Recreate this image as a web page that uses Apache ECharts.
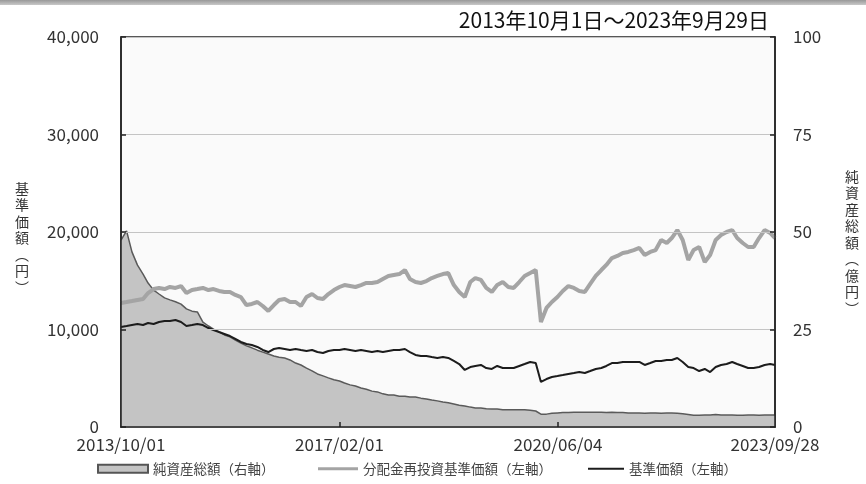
<!DOCTYPE html>
<html><head><meta charset="utf-8">
<script src="https://cdn.jsdelivr.net/npm/echarts@6/dist/echarts.min.js"></script>
<style>html,body{margin:0;padding:0;background:#fff}#c{width:866px;height:484px}</style>
</head><body><div id="c"></div>
<script>
const dates = [
'2013-10-01','2013-11-01','2013-12-01',
'2014-01-01','2014-02-01','2014-03-01','2014-04-01','2014-05-01','2014-06-01','2014-07-01','2014-08-01','2014-09-01','2014-10-01','2014-11-01','2014-12-01',
'2015-01-01','2015-02-01','2015-03-01','2015-04-01','2015-05-01','2015-06-01','2015-07-01','2015-08-01','2015-09-01','2015-10-01','2015-11-01','2015-12-01',
'2016-01-01','2016-02-01','2016-03-01','2016-04-01','2016-05-01','2016-06-01','2016-07-01','2016-08-01','2016-09-01','2016-10-01','2016-11-01','2016-12-01',
'2017-01-01','2017-02-01','2017-03-01','2017-04-01','2017-05-01','2017-06-01','2017-07-01','2017-08-01','2017-09-01','2017-10-01','2017-11-01','2017-12-01',
'2018-01-01','2018-02-01','2018-03-01','2018-04-01','2018-05-01','2018-06-01','2018-07-01','2018-08-01','2018-09-01','2018-10-01','2018-11-01','2018-12-01',
'2019-01-01','2019-02-01','2019-03-01','2019-04-01','2019-05-01','2019-06-01','2019-07-01','2019-08-01','2019-09-01','2019-10-01','2019-11-01','2019-12-01',
'2020-01-01','2020-02-01','2020-03-01','2020-04-01','2020-05-01','2020-06-01','2020-07-01','2020-08-01','2020-09-01','2020-10-01','2020-11-01','2020-12-01',
'2021-01-01','2021-02-01','2021-03-01','2021-04-01','2021-05-01','2021-06-01','2021-07-01','2021-08-01','2021-09-01','2021-10-01','2021-11-01','2021-12-01',
'2022-01-01','2022-02-01','2022-03-01','2022-04-01','2022-05-01','2022-06-01','2022-07-01','2022-08-01','2022-09-01','2022-10-01','2022-11-01','2022-12-01',
'2023-01-01','2023-02-01','2023-03-01','2023-04-01','2023-05-01','2023-06-01','2023-07-01','2023-08-01','2023-09-01','2023-09-28'
];
// 純資産総額（億円）
const netAssets = [
47.9,50.3,44.9,41.5,39.2,36.9,35.1,34.1,33.1,32.6,
32.1,31.5,30.3,29.7,29.5,26.9,25.9,25.1,24.4,23.6,
23.1,22.3,21.5,20.8,20.3,19.7,19.2,18.7,18.2,17.9,
17.7,17.2,16.4,15.9,15.1,14.4,13.6,13.1,12.6,12.1,
11.8,11.3,10.8,10.5,10.0,9.7,9.2,9.0,8.5,8.2,
8.2,7.9,7.9,7.7,7.7,7.4,7.2,6.9,6.7,6.4,
6.2,5.9,5.6,5.4,5.1,4.9,4.9,4.7,4.6,4.6,
4.4,4.4,4.4,4.4,4.4,4.3,4.1,3.3,3.3,3.5,
3.6,3.7,3.7,3.8,3.8,3.8,3.8,3.8,3.8,3.7,
3.8,3.7,3.7,3.6,3.6,3.6,3.5,3.6,3.6,3.5,
3.6,3.6,3.5,3.4,3.2,3.0,3.0,3.1,3.1,3.2,
3.1,3.1,3.1,3.0,3.0,3.1,3.1,3.0,3.1,3.1,
3.1
];
// 分配金再投資基準価額（円）
const reinvested = [
12720,12820,12920,13030,13130,13740,14150,14260,14150,14360,
14260,14460,13740,14050,14150,14260,14050,14150,13950,13850,
13850,13540,13330,12510,12620,12820,12410,11900,12510,13030,
13130,12820,12820,12410,13330,13640,13230,13130,13640,14050,
14360,14560,14460,14360,14560,14770,14770,14870,15180,15490,
15590,15690,16100,15180,14870,14770,14970,15280,15490,15690,
15790,14560,13850,13330,14870,15280,15080,14260,13850,14560,
14870,14360,14260,14870,15490,15790,16100,10770,12210,12820,
13330,13950,14460,14260,13950,13850,14670,15490,16100,16620,
17330,17540,17850,17950,18150,18360,17640,17950,18150,19180,
18870,19380,20200,19180,17130,18150,18460,16920,17640,19180,
19690,20000,20200,19380,18870,18460,18460,19380,20200,19900,
19380
];
// 基準価額（円）
const basePrice = [
10260,10360,10460,10560,10460,10670,10560,10770,10870,10870,
10970,10770,10360,10460,10560,10460,10150,9950,9740,9540,
9330,9030,8720,8510,8410,8210,7900,7690,8000,8100,
8000,7900,8000,7900,7800,7900,7690,7590,7800,7900,
7900,8000,7900,7800,7900,7800,7690,7800,7690,7800,
7900,7900,8000,7690,7390,7280,7280,7180,7080,7180,
7080,6770,6460,5850,6150,6260,6360,6050,5950,6260,
6050,6050,6050,6260,6460,6670,6560,4620,4920,5130,
5230,5330,5440,5540,5640,5540,5740,5950,6050,6260,
6560,6560,6670,6670,6670,6670,6360,6560,6770,6770,
6870,6870,7080,6670,6150,6050,5740,5950,5640,6150,
6360,6460,6670,6460,6260,6050,6050,6150,6360,6460,
6360
];
const xLabelDates = ['2013-10-01','2017-02-01','2020-06-04','2023-09-28'];
const xTickDates = ['2017-02-01','2020-06-04'];
const titleText = '2013年10月1日～2023年9月29日';
const leftName = '基準価額︵円︶';
const rightName = '純資産総額︵億円︶';
const legendNames = ['純資産総額（右軸）','分配金再投資基準価額（左軸）','基準価額（左軸）'];

const FONT = '"Noto Sans CJK JP", "Noto Sans", sans-serif';
const ts = d => Date.UTC(+d.slice(0,4), +d.slice(5,7) - 1, +d.slice(8,10));
const fmt = v => { const d = new Date(v); const p = n => String(n).padStart(2, '0');
  return d.getUTCFullYear() + '/' + p(d.getUTCMonth() + 1) + '/' + p(d.getUTCDate()); };
const zip = arr => arr.map((v, i) => [ts(dates[i]), v]);

const chart = echarts.init(document.getElementById('c'), null, {renderer: 'canvas'});
chart.setOption({
  animation: false,
  backgroundColor: '#ffffff',
  textStyle: {fontFamily: FONT},
  graphic: [
    {type: 'rect', shape: {x: 0, y: 0, width: 866, height: 5},
     style: {fill: {type: 'linear', x: 0, y: 0, x2: 0, y2: 1, colorStops: [{offset: 0, color: '#999'}, {offset: 1, color: '#c8c8c8'}]}}},
    {type: 'text', left: 15, top: 180, style: {text: leftName.split('').join('\n'), font: '14px ' + FONT, fill: '#333', lineHeight: 16.5, textAlign: 'center'}},
    {type: 'text', left: 845, top: 168, style: {text: rightName.split('').join('\n'), font: '14px ' + FONT, fill: '#333', lineHeight: 16.5, textAlign: 'center'}}
  ],
  title: {text: titleText, right: 92, top: 5, textStyle: {fontFamily: FONT, fontSize: 21, fontWeight: 'normal', color: '#111'}},
  grid: {left: 121, right: 91, top: 37, bottom: 57, show: true, backgroundColor: '#fafafa', borderColor: '#222', borderWidth: 1.5},
  legend: [
    {data: [legendNames[0]], left: 92, top: 457, icon: 'rect', itemWidth: 50, itemHeight: 8, itemGap: 4,
     textStyle: {fontFamily: FONT, fontSize: 13.5, color: '#444'}},
    {data: [legendNames[1]], left: 313, top: 457, itemWidth: 40, itemHeight: 3, icon: 'rect',
     textStyle: {fontFamily: FONT, fontSize: 13.5, color: '#444'}},
    {data: [legendNames[2]], left: 583, top: 457, itemWidth: 36, itemHeight: 2, icon: 'rect',
     textStyle: {fontFamily: FONT, fontSize: 13.5, color: '#444'}}
  ],
  xAxis: {
    type: 'value', min: ts('2013-10-01'), max: ts('2023-09-28'), z: 5,
    axisLine: {show: true, lineStyle: {color: '#222', width: 1.5}},
    axisTick: {show: true, inside: true, length: 5, customValues: xTickDates.map(ts), lineStyle: {color: '#222', width: 1.5}},
    axisLabel: {customValues: xLabelDates.map(ts), showMinLabel: true, showMaxLabel: true, margin: 9,
      fontFamily: FONT, fontSize: 17, color: '#333', formatter: v => fmt(v)},
    splitLine: {show: false}
  },
  yAxis: [
    {type: 'value', min: 0, max: 40000, interval: 10000, position: 'left', z: 5,
     axisLine: {show: true, lineStyle: {color: '#222', width: 1.5}},
     axisTick: {show: true, inside: true, length: 5, lineStyle: {color: '#222', width: 1.5}},
     axisLabel: {margin: 22, fontFamily: FONT, fontSize: 17, color: '#333',
       formatter: v => v.toLocaleString('en-US')},
     splitLine: {show: true, lineStyle: {color: '#c4c4c4', width: 1}}},
    {type: 'value', min: 0, max: 100, interval: 25, position: 'right', z: 5,
     axisLine: {show: true, lineStyle: {color: '#222', width: 1.5}},
     axisTick: {show: true, inside: true, length: 5, lineStyle: {color: '#222', width: 1.5}},
     axisLabel: {margin: 18, fontFamily: FONT, fontSize: 17, color: '#333'},
     splitLine: {show: false}}
  ],
  series: [
    {name: legendNames[0], type: 'line', yAxisIndex: 1, data: zip(netAssets), showSymbol: false, z: 1,
     lineStyle: {color: '#5a5a5a', width: 1.5}, itemStyle: {color: '#c4c4c4', borderColor: '#555', borderWidth: 1},
     areaStyle: {color: '#c4c4c4', opacity: 1}},
    {name: legendNames[1], type: 'line', yAxisIndex: 0, data: zip(reinvested), showSymbol: false, z: 2,
     lineStyle: {color: '#a4a4a4', width: 4}, itemStyle: {color: '#a4a4a4'}},
    {name: legendNames[2], type: 'line', yAxisIndex: 0, data: zip(basePrice), showSymbol: false, z: 3,
     lineStyle: {color: '#1c1c1c', width: 2}, itemStyle: {color: '#1c1c1c'}}
  ]
});
</script></body></html>
